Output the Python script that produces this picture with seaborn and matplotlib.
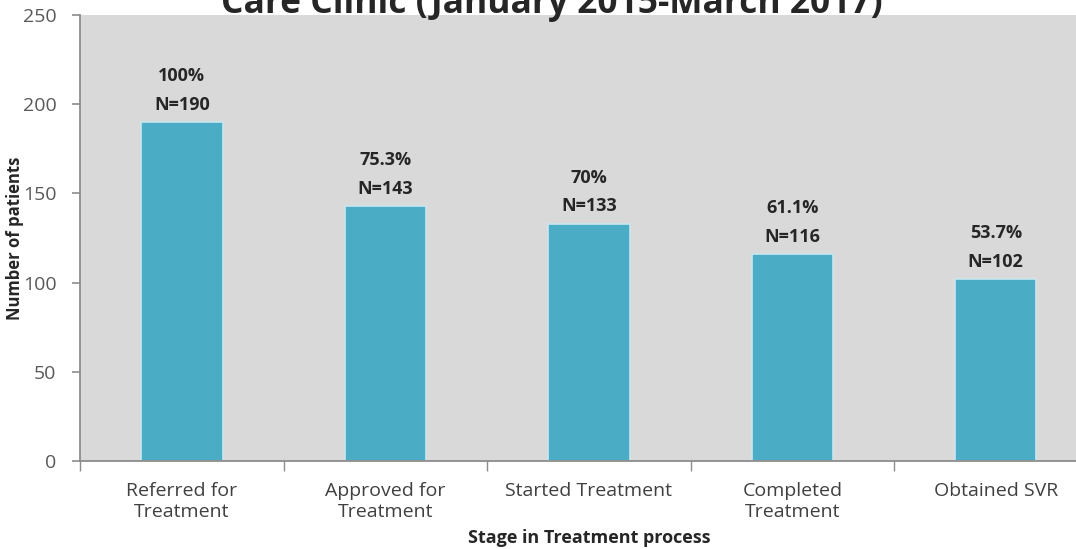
import numpy as np
import pandas as pd
import seaborn as sns
import matplotlib.pyplot as plt

# data
stages = ["Referred for\nTreatment", "Approved for\nTreatment", "Started Treatment",
          "Completed\nTreatment", "Obtained SVR"]
patients = [190, 143, 133, 116, 102]
percents = ["100%", "75.3%", "70%", "61.1%", "53.7%"]
title = "Care Clinic (January 2015-March 2017)"

df = pd.DataFrame({"stage": stages, "n": patients})

sns.set_style("white")
plt.rcParams['font.family'] = ['Open Sans', 'DejaVu Sans']

fig = plt.figure(figsize=(10.76, 5.49), dpi=100)
# right side of the plot area is cut off in the original picture
ax = fig.add_axes([0.0745, 0.160, 1.02 - 0.0745, 0.813])
ax.set_facecolor("#d9d9d9")

sns.barplot(data=df, x="stage", y="n", color="#4bacc6", saturation=1,
            width=0.4, edgecolor="#c9e6ee", linewidth=1.2, ax=ax)

ax.set_xlim(-0.5, len(stages) - 0.5)
ax.set_ylim(0, 250)
ax.set_yticks(np.arange(0, 251, 50))

for i, (v, p) in enumerate(zip(patients, percents)):
    ax.annotate(f"{p}\nN={v}", (i, v), xytext=(0, 6), textcoords="offset points",
                ha="center", va="bottom", fontsize=13, fontweight="bold",
                color="#262626", linespacing=1.75)

# axes styling (Excel-like)
for s in ["top", "right"]:
    ax.spines[s].set_visible(False)
for s in ["left", "bottom"]:
    ax.spines[s].set_color("#8c8c8c")
    ax.spines[s].set_linewidth(1.3)

ax.tick_params(axis="y", direction="out", length=6, width=1.2, color="#8c8c8c",
               pad=11, labelsize=14, labelcolor="#595959", left=True)
ax.tick_params(axis="x", which="major", length=0, pad=15, labelsize=14,
               labelcolor="#404040")
for lab in ax.get_xticklabels():
    lab.set_linespacing(1.25)
ax.set_xticks(np.arange(-0.5, len(stages) + 0.5, 1), minor=True)
ax.tick_params(axis="x", which="minor", direction="out", length=7, width=1,
               color="#8c8c8c", bottom=True)

ax.set_xlabel("Stage in Treatment process", fontsize=13, fontweight="bold",
              color="#262626")
ax.xaxis.set_label_coords(0.5, -0.173)
ax.xaxis.label.set_verticalalignment("center")
ax.set_ylabel("Number of patients", fontsize=12, fontweight="bold", color="#262626")
ax.yaxis.set_label_coords(-0.064, 0.5)
ax.yaxis.label.set_verticalalignment("center")

fig.text(0.513, 0.976, title, ha="center", va="baseline", fontsize=25.5,
         fontweight="bold", color="#262626")

fig.savefig("out.png", dpi=100)
